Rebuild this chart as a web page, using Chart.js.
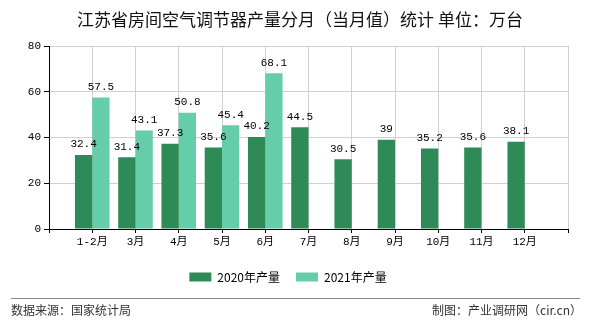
<!DOCTYPE html>
<html>
<head>
<meta charset="utf-8">
<script src="https://cdn.jsdelivr.net/npm/chart.js@4.4.1/dist/chart.umd.min.js"></script>
<style>
  html, body { margin: 0; padding: 0; background: #fff; }
  #wrap { position: relative; width: 590px; height: 330px; overflow: hidden; }
  #chart { position: absolute; left: 0; top: 0; }
  #title {
    position: absolute; left: 0; top: 6px; width: 600px; text-align: center;
    font: 17px "Noto Sans CJK SC", sans-serif; color: #111; white-space: nowrap;
  }
  #rule { position: absolute; left: 11px; top: 298px; width: 569px; height: 0; border-top: 1px solid #8a8a8a; }
  .foot { position: absolute; top: 301px; font: 12px "Noto Sans CJK SC", sans-serif; color: #333; white-space: nowrap; }
  #src { left: 11px; }
  #credit { right: 8px; }
</style>
</head>
<body>
<div id="wrap">
  <canvas id="chart" width="590" height="330"></canvas>
  <div id="title">江苏省房间空气调节器产量分月（当月值）统计 单位：万台</div>
  <div id="rule"></div>
  <div class="foot" id="src">数据来源：国家统计局</div>
  <div class="foot" id="credit">制图：产业调研网（cir.cn）</div>
</div>
<script>
// monthly output, 10k units
const months = ["1-2月", "3月", "4月", "5月", "6月", "7月", "8月", "9月", "10月", "11月", "12月"];
const output2020 = [32.4, 31.4, 37.3, 35.6, 40.2, 44.5, 30.5, 39, 35.2, 35.6, 38.1];
const output2021 = [57.5, 43.1, 50.8, 45.4, 68.1, null, null, null, null, null, null];
const yTicks = [0, 20, 40, 60, 80];

// the axis has an empty slot on each side of the months
const labels = [""].concat(months, [""]);
const pad = arr => [null].concat(arr, [null]);

const monoFont = { family: "'Liberation Mono', 'Noto Sans CJK SC', monospace", size: 11 };
const gridGrey = "#d0d0d0";

// value labels above each bar
const barValues = {
  id: "barValues",
  afterDatasetsDraw(chart) {
    const ctx = chart.ctx;
    ctx.save();
    ctx.font = "11px 'Liberation Mono', monospace";
    ctx.fillStyle = "#000";
    ctx.textAlign = "center";
    ctx.textBaseline = "bottom";
    chart.data.datasets.forEach((ds, i) => {
      chart.getDatasetMeta(i).data.forEach((bar, j) => {
        const v = ds.data[j];
        if (v == null) return;
        ctx.fillText(String(v), bar.x, bar.y - 5);
      });
    });
    ctx.restore();
  }
};

new Chart(document.getElementById("chart"), {
  type: "bar",
  data: {
    labels: labels,
    datasets: [
      { label: "2020年产量", data: pad(output2020), backgroundColor: "#2e8b57" },
      { label: "2021年产量", data: pad(output2021), backgroundColor: "#66cdaa" }
    ]
  },
  options: {
    responsive: false,
    animation: false,
    events: [],
    categoryPercentage: 0.8,
    barPercentage: 1.0,
    layout: { padding: { left: 8, right: 22, top: 46, bottom: 37 } },
    scales: {
      x: {
        offset: false,
        grid: {
          offset: false,
          color: gridGrey,
          lineWidth: 1,
          tickColor: "#000",
          tickLength: 4
        },
        border: { color: "#000" },
        ticks: { color: "#000", font: monoFont, padding: 2, maxRotation: 0, autoSkip: false },
        afterFit(scale) { scale.height = 26; }
      },
      y: {
        min: 0,
        max: 80,
        afterBuildTicks(scale) { scale.ticks = yTicks.map(v => ({ value: v })); },
        grid: { color: gridGrey, tickColor: "#000", tickLength: 5 },
        border: { color: "#000" },
        ticks: { color: "#000", font: monoFont, padding: 3 },
        afterFit(scale) { scale.width = 41; }
      }
    },
    plugins: {
      title: { display: false },
      tooltip: { enabled: false },
      legend: {
        position: "bottom",
        labels: {
          boxWidth: 22,
          boxHeight: 9,
          padding: 16,
          color: "#000",
          font: { family: "'Noto Sans CJK SC', sans-serif", size: 12 }
        }
      }
    }
  },
  plugins: [barValues]
});
</script>
</body>
</html>
